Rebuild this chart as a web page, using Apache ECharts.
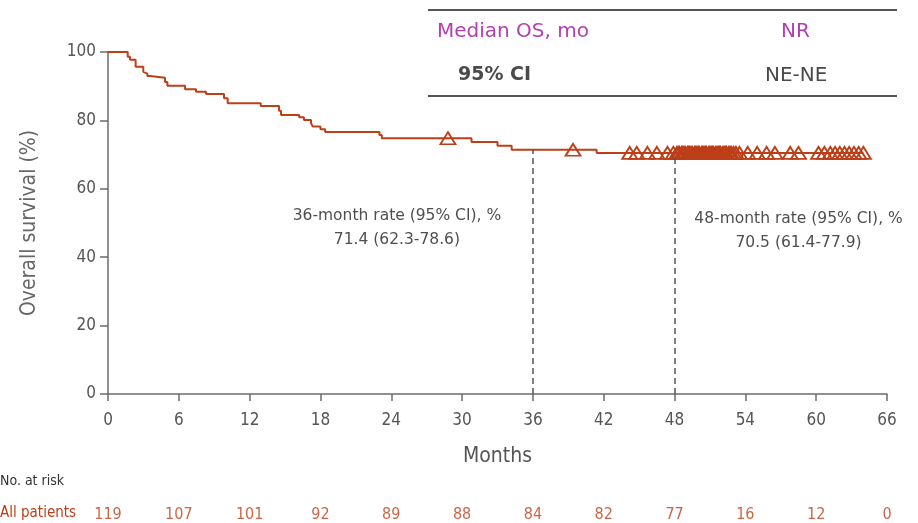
<!DOCTYPE html>
<html>
<head>
<meta charset="utf-8">
<title>Overall survival</title>
<script src="https://cdn.jsdelivr.net/npm/echarts@6/dist/echarts.min.js"></script>
<style>
	html, body { margin: 0; padding: 0; background: #fff; }
	#chart { width: 918px; height: 523px; }
</style>
</head>
<body>
<div id="chart"></div>
<script>
	// 曲线台阶 (月, 生存率%)
	const stepMonths = [0, 1.67, 1.86, 2.34, 2.99, 3.14, 3.33, 3.56, 4.83, 5.03, 6.53, 7.46, 8.31, 9.83, 10.14, 12.94, 14.49, 14.66, 16.2, 16.6, 17.2, 17.35, 18.0, 18.4, 23.0, 23.2, 30.8, 33.0, 34.2, 41.4, 64.0];
	const stepSurv = [100, 98.6, 97.7, 95.7, 94.2, 93.7, 93.0, 92.5, 91.2, 90.1, 89.1, 88.4, 87.7, 86.5, 85.0, 84.2, 82.8, 81.6, 80.9, 80.1, 79.2, 78.2, 77.4, 76.6, 75.7, 74.8, 73.7, 72.6, 71.4, 70.5, 70.5];
	// 删失时间
	const censorMonths = [28.8, 39.4, 44.2, 44.8, 45.7, 46.5, 47.4, 47.9,
		48.2, 48.3, 48.4, 48.6, 48.7, 48.8, 48.9, 49.1, 49.2, 49.3, 49.4, 49.5, 49.7, 49.8, 49.9, 50.0, 50.1, 50.3, 50.4, 50.5,
		50.6, 50.7, 50.9, 51.0, 51.1, 51.2, 51.3, 51.5, 51.6, 51.7, 51.8, 51.9, 52.1, 52.2, 52.3, 52.4, 52.6, 52.7, 52.8, 53.0, 53.2, 53.5,
		54.2, 55.0, 55.8, 56.5, 57.8, 58.5, 60.2, 60.7, 61.2, 61.6, 62.0, 62.4, 62.8, 63.2, 63.6, 64.0];
	const xTicks = [0, 6, 12, 18, 24, 30, 36, 42, 48, 54, 60, 66];
	const atRisk = [119, 107, 101, 92, 89, 88, 84, 82, 77, 16, 12, 0];
	const rateMonths = [36, 48];
	const rateValues = [71.4, 70.5];
	const rateLabels = ['36-month rate (95% CI), %\n71.4 (62.3-78.6)', '48-month rate (95% CI), %\n70.5 (61.4-77.9)'];

	const red = '#bd3f18';
	const axisColor = '#6b6b6b';
	const font = "'DejaVu Sans Condensed', 'DejaVu Sans', sans-serif";
	const font2 = "'DejaVu Sans', sans-serif";

	function survAt(t) {
		let s = 100;
		for (let i = 0; i < stepMonths.length; i++) {
			if (stepMonths[i] <= t) s = stepSurv[i];
		}
		return s;
	}

	const curve = stepMonths.map((m, i) => [m, stepSurv[i]]);
	const censors = censorMonths.map(m => [m, survAt(m)]);
	const riskData = xTicks.map((m, i) => [m, 0, atRisk[i]]);
	// 注释位置：36月在左，48月在右
	const rateOffsets = [[-136, 0], [124, 0]];
	const rateY = [48.5, 47.6];

	const chart = echarts.init(document.getElementById('chart'));
	const option = {
		animation: false,
		textStyle: { fontFamily: font },
		grid: [
			{ left: 108, right: 31, top: 52, bottom: 129 },
			{ left: 108, right: 31, top: 514, height: 1 }
		],
		xAxis: [
			{
				type: 'value', min: 0, max: 66, interval: 6,
				name: 'Months', nameLocation: 'middle', nameGap: 52,
				nameTextStyle: { fontSize: 21, color: '#555', fontFamily: font },
				axisLine: { lineStyle: { color: axisColor, width: 1.5 } },
				axisTick: { length: 7, lineStyle: { color: axisColor, width: 1.5 } },
				axisLabel: { fontSize: 17, color: '#555', margin: 18 },
				splitLine: { show: false }
			},
			{
				gridIndex: 1, type: 'value', min: 0, max: 66, show: false
			}
		],
		yAxis: [
			{
				type: 'value', min: 0, max: 100, interval: 20,
				name: 'Overall survival (%)', nameLocation: 'middle', nameGap: 68,
				nameTextStyle: { fontSize: 21, color: '#666', fontFamily: font },
				axisLine: { show: true, lineStyle: { color: axisColor, width: 1.5 } },
				axisTick: { show: true, length: 8, lineStyle: { color: axisColor, width: 1.5 } },
				axisLabel: { fontSize: 17, color: '#555', margin: 12 },
				splitLine: { show: false }
			},
			{ gridIndex: 1, type: 'value', min: 0, max: 1, show: false }
		],
		series: [
			{
				type: 'line', step: 'end', data: curve, symbol: 'none',
				lineStyle: { color: red, width: 2 }, z: 3,
				markLine: {
					silent: true, symbol: 'none',
					lineStyle: { color: '#555', type: [6, 4], width: 1.5 },
					label: { show: false },
					data: rateMonths.map((m, i) => [{ coord: [m, 0] }, { coord: [m, rateValues[i]] }])
				}
			},
			{
				type: 'scatter', data: censors, symbol: 'triangle', symbolSize: [15, 12],
				itemStyle: { color: 'rgba(255,255,255,0)', borderColor: red, borderWidth: 1.8, opacity: 1 }, z: 4
			},
			{
				// 36/48月注释
				type: 'scatter', symbolSize: 0,
				data: rateMonths.map((m, i) => ({
					value: [m, rateY[i]],
					label: { formatter: rateLabels[i], offset: rateOffsets[i] }
				})),
				label: {
					show: true, position: 'inside', color: '#222', fontSize: 15.5, lineHeight: 24,
					align: 'center', fontFamily: font2
				}
			},
			{
				// 风险人数
				type: 'scatter', xAxisIndex: 1, yAxisIndex: 1, symbolSize: 0, data: riskData,
				label: { show: true, position: 'inside', formatter: p => p.value[2], color: red, fontSize: 16 }
			}
		],
		graphic: [
			{ type: 'line', shape: { x1: 428, y1: 10, x2: 897, y2: 10 }, style: { stroke: '#555', lineWidth: 2 } },
			{ type: 'line', shape: { x1: 428, y1: 96, x2: 897, y2: 96 }, style: { stroke: '#555', lineWidth: 2 } },
			{ type: 'text', left: 437, top: 22, style: { text: 'Median OS, mo', fill: '#b23fb2', font: "20px " + font2 } },
			{ type: 'text', left: 781, top: 22, style: { text: 'NR', fill: '#b23fb2', font: "20px " + font2 } },
			{ type: 'text', left: 458, top: 66, style: { text: '95% CI', fill: '#4a4a4a', font: "bold 19px " + font2 } },
			{ type: 'text', left: 765, top: 66, style: { text: 'NE-NE', fill: '#4a4a4a', font: "20px " + font2 } },
			{ type: 'text', left: 0, top: 474, style: { text: 'No. at risk', fill: '#333', font: "14px " + font } },
			{ type: 'text', left: 0, top: 506, style: { text: 'All patients', fill: red, font: "15px " + font } }
		]
	};
	chart.setOption(option);
</script>
</body>
</html>
